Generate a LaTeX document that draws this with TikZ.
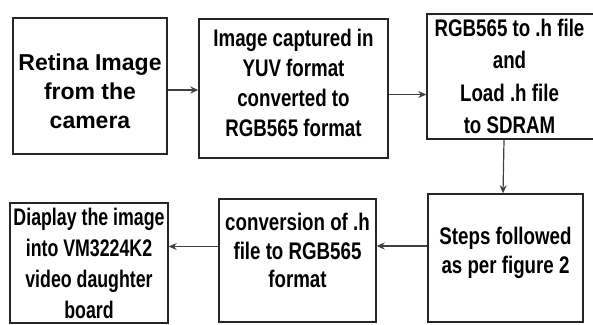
\documentclass[tikz,border=0pt]{standalone}
\usepackage{fontspec}
\usetikzlibrary{arrows.meta}
\setmainfont{Liberation Sans}
\newfontfamily\widefont{Liberation Sans}
\newfontfamily\narrowfont[FakeStretch=0.78]{Liberation Sans}
\newfontfamily\narrowerfont[FakeStretch=0.74]{Liberation Sans}
\begin{document}
\begin{tikzpicture}[x=1pt, y=1pt,
		stepbox/.style={draw=black!85, line width=1.4pt, inner sep=0pt},
		steptext/.style={align=center, inner sep=0pt,
			font=\narrowfont\bfseries\fontsize{24}{30}\selectfont},
		flow/.style={-{Stealth[length=8pt, width=7pt]}, black!75, line width=1.2pt}]
		\useasboundingbox (0, 0) rectangle (593, 324);

		% top row
		\node[stepbox, minimum width=154pt, minimum height=136pt] (retina) at (90, 238) {};
		\node[steptext, font=\widefont\bfseries\fontsize{23}{29}\selectfont] (retina-t)
			at ([yshift=-5]retina.center) {Retina Image\\from the\\camera};
		\node[stepbox, minimum width=189pt, minimum height=139pt] (capture) at (293.5, 235.5) {};
		\node[steptext] (capture-t) at ([yshift=6]capture.center)
			{Image captured in\\YUV format\\converted to\\RGB565 format};
		\node[stepbox, minimum width=171pt, minimum height=125pt] (load) at (512.5, 247.5) {};
		\node[steptext, font=\narrowfont\bfseries\fontsize{24}{32.5}\selectfont] (load-t)
			at ([xshift=-3]load.center) {RGB565 to .h file\\and\\Load .h file\\to SDRAM};

		% bottom row
		\node[stepbox, minimum width=155pt, minimum height=128pt] (steps) at (505.5, 66) {};
		\node[steptext, font=\narrowfont\bfseries\fontsize{24}{29}\selectfont] (steps-t)
			at ([yshift=5]steps.center) {Steps followed\\as per figure 2};
		\node[stepbox, minimum width=157pt, minimum height=123pt] (convert) at (297.5, 63.5) {};
		\node[steptext, font=\narrowfont\bfseries\fontsize{24}{28.5}\selectfont] (convert-t)
			at ([yshift=10]convert.center) {conversion of .h\\file to RGB565\\format};
		\node[stepbox, minimum width=158pt, minimum height=120pt] (display) at (89, 61) {};
		\node[steptext, font=\narrowerfont\bfseries\fontsize{24}{31}\selectfont] (display-t)
			at ([yshift=0]display.center) {Diaplay the image\\into VM3224K2\\video daughter\\board};

		% arrows
		\draw[flow] ([yshift=-4]retina.east) -- ([yshift=-4]retina.east -| capture.west);
		\draw[flow] ([yshift=-6]capture.east) -- ([yshift=-6]capture.east -| load.west);
		\draw[flow] ([xshift=-8.5]load.south) -- ([xshift=-2.5]steps.north);
		\draw[flow] ([yshift=12]steps.west) -- ([yshift=12]steps.west -| convert.east);
		\draw[flow] ([yshift=14]convert.west) -- ([yshift=14]convert.west -| display.east);
	\end{tikzpicture}
\end{document}
